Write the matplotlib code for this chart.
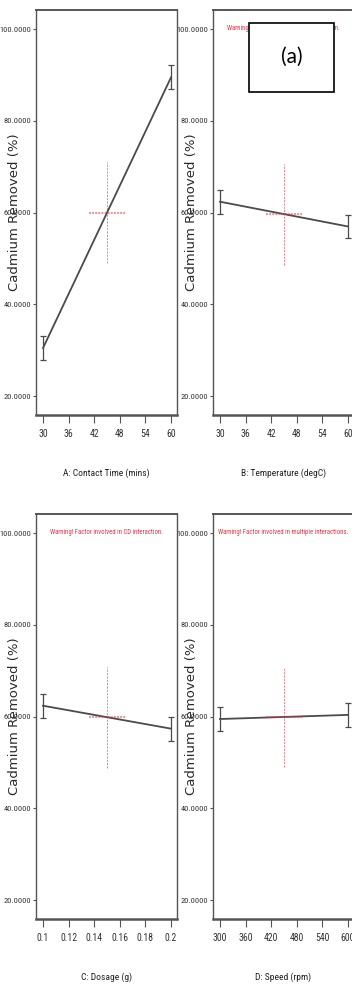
import matplotlib
matplotlib.use("Agg")
import matplotlib.pyplot as plt
from matplotlib import font_manager
from matplotlib.font_manager import FontProperties
from matplotlib.patches import Rectangle
import numpy as np

# one-factor effect plots, cadmium removal
factor_names = ["A: Contact Time (mins)", "B: Temperature (degC)",
                "C: Dosage (g)", "D: Speed (rpm)"]
factor_low = [30, 30, 0.1, 300]
factor_high = [60, 60, 0.2, 600]
resp_low = [30.5, 62.4, 62.4, 59.5]
resp_high = [89.5, 57.0, 57.4, 60.4]
lsd_half = [2.6, 2.6, 2.6, 2.6]
xtick_labels = [
    ["30", "36", "42", "48", "54", "60"],
    ["30", "36", "42", "48", "54", "60"],
    ["0.1", "0.12", "0.14", "0.16", "0.18", "0.2"],
    ["300", "360", "420", "480", "540", "600"],
]
ytick_values = [20, 40, 60, 80, 100]
warnings = [
    None,
    "Warning! Factor involved in BD interaction.",
    "Warning! Factor involved in CD interaction.",
    "Warning! Factor involved in multiple interactions.",
]
y_title = "Cadmium Removed (%)"
panel_tag = "(a)"


def pick_narrow():
    # look for a condensed/narrow sans face, else plain Liberation Sans
    faces = font_manager.fontManager.ttflist
    prefs = ["Liberation Sans Narrow", "Roboto Condensed", "Open Sans Condensed"]
    for name in prefs:
        for f in faces:
            if f.name == name and f.style == "normal" and str(f.weight) in ("400", "normal", "regular"):
                return FontProperties(fname=f.fname), True
    for f in faces:
        if f.name == "DejaVu Sans" and f.stretch == "condensed" and f.style == "normal" \
                and str(f.weight) in ("400", "normal"):
            return FontProperties(fname=f.fname), True
    return FontProperties(family="Liberation Sans"), False


narrow_fp, is_narrow = pick_narrow()


def fp(size):
    p = narrow_fp.copy()
    p.set_size(size)
    return p


W, H = 352, 985
fig = plt.figure(figsize=(W / 100, H / 100), dpi=100)
fig.patch.set_facecolor("white")

# axes boxes in pixels: left, bottom edge (from top), width, height
boxes = [(36, 415), (213, 415), (36, 919), (213, 919)]
bw, bh = 141, 405

red = "#f0303f"
line_col = "#4a4a4a"
k = 1.0 if is_narrow else 0.88

for i in range(4):
    left, bottom = boxes[i]
    ax = fig.add_axes([left / W, 1 - bottom / H, bw / W, bh / H])
    lo, hi = factor_low[i], factor_high[i]
    rng = hi - lo
    ax.set_xlim(lo - 0.055 * rng, hi + 0.047 * rng)
    ax.set_ylim(15.9, 104.2)

    xs = [lo, hi]
    ys = [resp_low[i], resp_high[i]]

    # centre-point cross
    cx = (lo + hi) / 2
    cy = np.mean(ys)
    ax.plot([cx, cx], [cy - 11, cy + 11], color=red, lw=0.6,
            ls=(0, (2.5, 1.5)), alpha=0.7, zorder=2)

    ax.errorbar(xs, ys, yerr=lsd_half[i], fmt="-", color=line_col, lw=1.3,
                elinewidth=0.9, capsize=2.2, capthick=0.9, zorder=3)

    ax.plot([cx - 0.137 * rng, cx + 0.137 * rng], [cy, cy], color=red,
            lw=1.4, ls=(0, (1, 0.6)), alpha=0.55, zorder=4)

    ticks = np.linspace(lo, hi, 6)
    ax.set_xticks(ticks)
    ax.set_xticklabels(xtick_labels[i], fontproperties=fp(7.0 * k), color="#333333")
    ax.set_yticks(ytick_values)
    ax.set_yticklabels([f"{v:.4f}" for v in ytick_values],
                       fontproperties=fp(6.0 * k), color="#333333")
    ax.tick_params(axis="x", length=6, width=0.8, color="#555555", pad=4)
    ax.tick_params(axis="y", length=2.5, width=0.8, color="#555555", pad=1)

    for name, sp in ax.spines.items():
        sp.set_color("#555555")
        sp.set_linewidth(1.0)
    ax.spines["bottom"].set_linewidth(1.8)
    ax.spines["top"].set_linewidth(1.4)

    ax.set_xlabel(factor_names[i], fontproperties=fp(6.8 * k), color="#222222")
    ax.xaxis.set_label_coords(0.5, -0.143)
    ax.xaxis.label.set_va("center")

    ax.set_ylabel(y_title, fontsize=9.5, color="#2a2a2a")
    ax.yaxis.set_label_coords(-0.156, 0.5)
    ax.yaxis.label.set_va("center")

    if warnings[i]:
        ax.text(0.5, 0.955, warnings[i], transform=ax.transAxes, ha="center",
                va="center", fontproperties=fp(4.9 * k if is_narrow else 4.4),
                color=red)

# panel tag box
fig.patches.append(Rectangle((249 / W, 1 - 92 / H), 85 / W, 69 / H,
                             transform=fig.transFigure, facecolor="white",
                             edgecolor="black", lw=1.2, zorder=10))
fig.text(291.5 / W, 1 - 57 / H, panel_tag, ha="center", va="center",
         fontsize=15, family="Lato", color="black", zorder=11)

fig.savefig("out.png", dpi=100)
